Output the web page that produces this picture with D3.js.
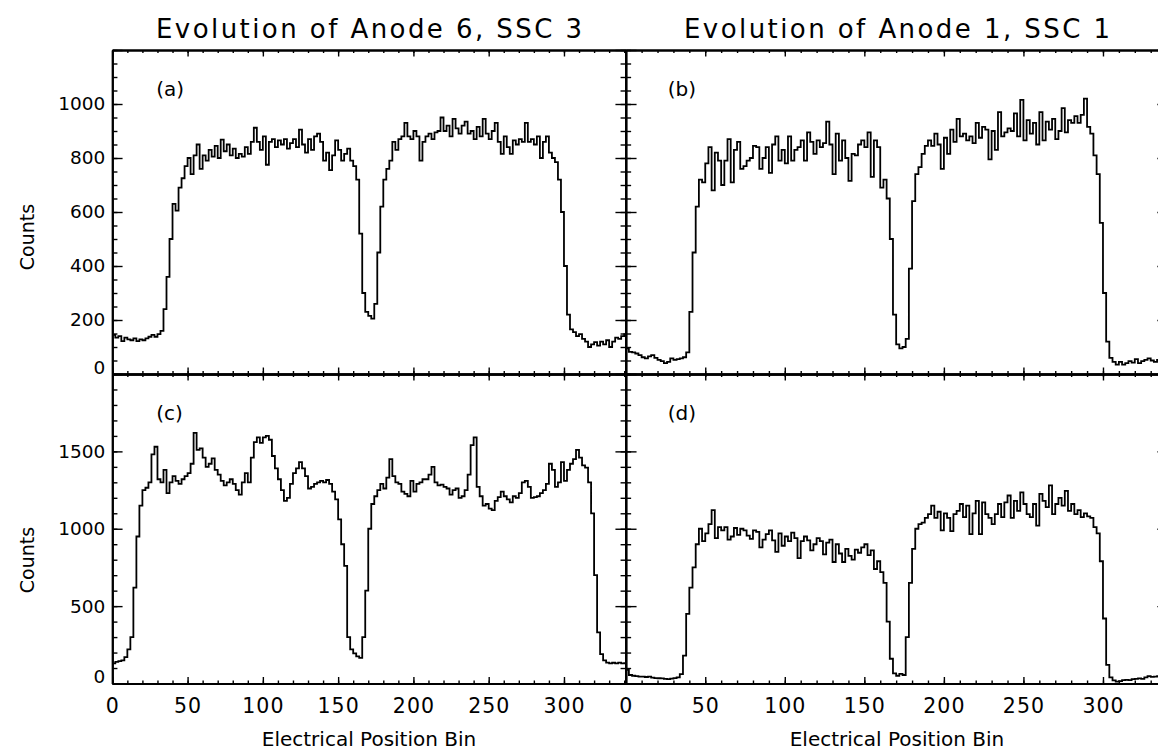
<!DOCTYPE html>
<html>
<head>
<meta charset="utf-8">
<script src="https://cdn.jsdelivr.net/npm/d3@7"></script>
<style>
  body { margin: 0; background: #fff; }
</style>
</head>
<body>
<div id="chart"></div>
<script>
// histogram counts, read every 2 bins (bin start = index * binWidth)
const binWidth = 2;
const binMax = 341;

// panel (a) Anode 6, SSC 3 - early
const countsA = [
  145, 135, 140, 122, 135, 128, 125, 132, 122, 128,
  125, 132, 138, 145, 138, 148, 160, 240, 360, 500,
  630, 605, 690, 725, 770, 800, 740, 810, 850, 760,
  810, 790, 830, 805, 845, 800, 868, 825, 850, 810,
  835, 800, 815, 805, 840, 815, 860, 912, 860, 830,
  880, 775, 860, 870, 840, 865, 850, 870, 835, 855,
  870, 840, 905, 850, 820, 870, 830, 880, 890, 860,
  790, 820, 755, 810, 865, 830, 790, 815, 835, 790,
  770, 720, 520, 300, 230, 215, 205, 260, 450, 620,
  720, 760, 790, 860, 830, 870, 880, 930, 880, 870,
  900, 880, 790, 860, 880, 890, 870, 895, 900, 950,
  900, 920, 880, 945, 910, 890, 920, 935, 890, 900,
  870, 915, 880, 945, 890, 870, 900, 930, 860, 815,
  880, 840, 815, 865, 850, 870, 860, 930, 860, 870,
  850, 880, 800, 860, 880, 820, 800, 785, 720, 600,
  400, 220, 165, 155, 140, 148, 130, 120, 100, 110,
  118, 105, 120, 110, 125, 100, 120, 135, 130, 140,
  148
];

// panel (b) Anode 1, SSC 1 - early
const countsB = [
  95, 82, 80, 76, 70, 62, 58, 65, 70, 60,
  52, 48, 40, 45, 58, 52, 55, 58, 62, 80,
  230, 450, 620, 720, 710, 780, 840, 680, 820, 790,
  700, 790, 870, 710, 830, 860, 760, 770, 790, 800,
  845, 840, 760, 800, 840, 745, 850, 880, 790, 830,
  780, 880, 790, 830, 840, 865, 790, 895, 860, 815,
  865, 840, 855, 935, 850, 740, 890, 790, 865, 800,
  715, 815, 810, 850, 865, 840, 895, 730, 865, 840,
  690, 720, 650, 500, 220, 110, 95, 100, 130, 390,
  640, 740, 766, 815, 845, 865, 845, 890, 850, 760,
  875, 815, 905, 860, 945, 880, 890, 865, 880, 855,
  930, 875, 915, 905, 795, 900, 830, 970, 880, 895,
  910, 900, 965, 880, 1015, 865, 940, 890, 930, 850,
  970, 865, 935, 905, 945, 870, 900, 985, 895, 940,
  930, 955, 930, 960, 1020, 915, 890, 810, 740, 560,
  300, 120, 60, 45, 35, 45, 35, 40, 48, 42,
  55, 40, 48, 52, 58, 50, 45, 52, 48, 55,
  50
];

// panel (c) Anode 6, SSC 3 - late
const countsC = [
  130, 140, 145, 150, 170, 220, 300, 620, 950, 1150,
  1250, 1265, 1300, 1480, 1530, 1320, 1300, 1380, 1230, 1300,
  1340, 1310, 1290, 1320, 1340, 1360, 1420, 1620, 1510, 1520,
  1460, 1400, 1420, 1455, 1380, 1350, 1310, 1280, 1300, 1320,
  1290, 1250, 1220, 1300, 1360, 1300, 1460, 1560, 1590, 1555,
  1590, 1600, 1575, 1470, 1390, 1320, 1250, 1180, 1200, 1290,
  1360, 1390, 1430, 1390, 1340, 1260, 1270, 1290, 1300, 1310,
  1300, 1315, 1290, 1240, 1190, 1060, 900, 760, 300, 220,
  195, 175, 165, 300, 600, 1000, 1160, 1210, 1250, 1290,
  1260, 1330, 1450, 1340, 1300, 1290, 1240, 1225, 1210, 1310,
  1240, 1290, 1300, 1320, 1320, 1350, 1400, 1300, 1280, 1285,
  1270, 1260, 1220, 1250, 1260, 1200, 1210, 1250, 1350, 1540,
  1590, 1270, 1210, 1150, 1160, 1130, 1120, 1180, 1205, 1240,
  1210, 1190, 1170, 1210, 1200, 1230, 1300, 1310, 1270, 1200,
  1205, 1210, 1230, 1250, 1290, 1420, 1380, 1270, 1300, 1430,
  1310, 1380, 1420, 1450, 1510, 1460, 1410, 1395, 1300, 1100,
  700, 330, 190, 150, 135, 130, 134, 130, 135, 130,
  132
];

// panel (d) Anode 1, SSC 1 - late
const countsD = [
  88, 55, 50, 48, 45, 44, 42, 45, 38, 35,
  34, 33, 30, 28, 32, 35, 40, 60, 180, 450,
  620, 750, 900, 1000, 920, 970, 1030, 1120, 940, 1010,
  990, 1010, 930, 950, 1005, 960, 1000, 990, 955, 935,
  990, 980, 880, 930, 965, 990, 925, 850, 970, 890,
  950, 920, 975, 940, 810, 920, 950, 925, 860, 900,
  940, 920, 835, 910, 930, 785, 900, 840, 785, 870,
  825, 800, 865, 845, 880, 900, 830, 860, 740, 790,
  720, 650, 400, 160, 65, 50, 62, 55, 300, 650,
  870, 1000, 1030, 1040, 1070, 1095, 1150, 1070, 1110, 990,
  1100, 1070, 985, 1095, 1115, 1160, 1075, 1150, 965, 1100,
  1180, 965, 1170, 1095, 1070, 1030, 1095, 1160, 1075, 1170,
  1215, 1070, 1180, 1115, 1235, 1160, 1095, 1075, 1160, 1020,
  1225, 1180, 1140, 1280, 1095, 1160, 1200, 1150, 1245, 1115,
  1160, 1095, 1120, 1075, 1100, 1080, 1070, 1010, 970, 790,
  420, 120, 40, 20, 12, 15, 22, 24, 22, 28,
  30, 33, 30, 40, 48, 43, 45, 48, 45, 50,
  50
];

const xTickValues = [0, 50, 100, 150, 200, 250, 300];
const yTicksTop = [0, 200, 400, 600, 800, 1000];
const yTicksBottom = [0, 500, 1000, 1500];
const titles = ["Evolution of Anode 6, SSC 3", "Evolution of Anode 1, SSC 1"];
const panelLabels = ["(a)", "(b)", "(c)", "(d)"];

const width = 1158, height = 750;
const font = "'DejaVu Sans', sans-serif";

const svg = d3.select("#chart").append("svg")
  .attr("width", width)
  .attr("height", height)
  .style("font-family", font);

svg.append("rect").attr("width", width).attr("height", height).attr("fill", "#fff");

const cols = [
  { x0: 112.3, x1: 625.7 },
  { x0: 625.7, x1: 1168.2 }
];
const rows = [
  { y0: 50, y1: 374, max: 1200, minor: 50, ticks: yTicksTop, countsY: 237 },
  { y0: 374, y1: 683.5, max: 2000, minor: 100, ticks: yTicksBottom, countsY: 560 }
];
const panels = [
  { counts: countsA, c: 0, r: 0 },
  { counts: countsB, c: 1, r: 0 },
  { counts: countsC, c: 0, r: 1 },
  { counts: countsD, c: 1, r: 1 }
];

function styleAxis(g, w) {
  g.select(".domain").attr("stroke", "#000").attr("stroke-width", w);
  g.selectAll(".tick line").attr("stroke", "#000").attr("stroke-width", 1.4);
}

panels.forEach((p, i) => {
  const col = cols[p.c], row = rows[p.r];
  const x = d3.scaleLinear().domain([0, binMax]).range([col.x0, col.x1]);
  const y = d3.scaleLinear().domain([0, row.max]).range([row.y1, row.y0]);
  const g = svg.append("g");

  const xMinor = d3.range(0, binMax + 1, 10);
  const yMinor = d3.range(0, row.max + 1, row.minor);

  // bottom & top axes (ticks inward)
  [[row.y1, d3.axisTop], [row.y0, d3.axisBottom]].forEach(([yy, ax]) => {
    g.append("g").attr("transform", `translate(0,${yy})`)
      .call(ax(x).tickValues(xMinor).tickSize(3).tickSizeOuter(0).tickFormat(""))
      .call(s => styleAxis(s, 2));
    g.append("g").attr("transform", `translate(0,${yy})`)
      .call(ax(x).tickValues(xTickValues).tickSize(6.5).tickSizeOuter(0).tickFormat(""))
      .call(s => styleAxis(s, 2));
  });
  // left & right axes (ticks inward)
  const tl = 0.02 * (col.x1 - col.x0);
  [[col.x0, d3.axisRight], [col.x1, d3.axisLeft]].forEach(([xx, ax]) => {
    g.append("g").attr("transform", `translate(${xx},0)`)
      .call(ax(y).tickValues(yMinor).tickSize(tl / 2).tickSizeOuter(0).tickFormat(""))
      .call(s => styleAxis(s, 2));
    g.append("g").attr("transform", `translate(${xx},0)`)
      .call(ax(y).tickValues(d3.range(0, row.max + 1, row.ticks[1])).tickSize(tl).tickSizeOuter(0).tickFormat(""))
      .call(s => styleAxis(s, 2));
  });

  // y labels on left column only
  if (p.c === 0) {
    const yl = g.append("g").attr("transform", `translate(${col.x0},0)`)
      .call(d3.axisLeft(y).tickValues(row.ticks).tickSize(0).tickPadding(7).tickFormat(d3.format("d")));
    yl.select(".domain").remove();
    yl.selectAll("text").attr("font-size", 18.5).attr("font-family", font).attr("fill", "#000");
    yl.selectAll(".tick text").filter(d => d === 0).attr("dy", "-0.05em");

    svg.append("text")
      .attr("transform", `translate(27,${row.countsY}) rotate(-90)`)
      .attr("text-anchor", "middle")
      .attr("dy", "0.35em")
      .attr("font-size", 19)
      .text("Counts");
  }

  // x labels on bottom row
  if (p.r === 1) {
    const xl = g.append("g").attr("transform", `translate(0,${row.y1})`)
      .call(d3.axisBottom(x).tickValues(xTickValues).tickSize(0).tickPadding(15));
    xl.select(".domain").remove();
    xl.selectAll("text").attr("font-size", 20.5).attr("font-family", font)
      .attr("letter-spacing", 1).attr("fill", "#000");

    svg.append("text")
      .attr("x", (col.x0 + col.x1) / 2)
      .attr("y", 746)
      .attr("text-anchor", "middle")
      .attr("font-size", 20)
      .text("Electrical Position Bin");
  }

  // top titles
  if (p.r === 0) {
    svg.append("text")
      .attr("x", (col.x0 + col.x1) / 2)
      .attr("y", 38)
      .attr("text-anchor", "middle")
      .attr("font-size", 26)
      .attr("textLength", 426)
      .attr("lengthAdjust", "spacing")
      .text(titles[p.c]);
  }

  // panel letter
  g.append("text")
    .attr("x", col.x0 + (p.c === 0 ? 44 : 42))
    .attr("y", row.y0 + 46)
    .attr("font-size", 20)
    .text(panelLabels[i]);

  // histogram as steps
  const clipId = "clip" + i;
  svg.append("clipPath").attr("id", clipId)
    .append("rect")
    .attr("x", col.x0).attr("y", row.y0)
    .attr("width", col.x1 - col.x0).attr("height", row.y1 - row.y0);

  const pts = p.counts.map((v, k) => [k * binWidth, v]);
  pts.push([binMax, p.counts[p.counts.length - 1]]);

  const line = d3.line()
    .x(d => x(d[0]))
    .y(d => y(d[1]))
    .curve(d3.curveStepAfter);

  g.append("path")
    .datum(pts)
    .attr("clip-path", `url(#${clipId})`)
    .attr("fill", "none")
    .attr("stroke", "#000")
    .attr("stroke-width", 1.8)
    .attr("stroke-linejoin", "miter")
    .attr("d", line);
});
</script>
</body>
</html>
